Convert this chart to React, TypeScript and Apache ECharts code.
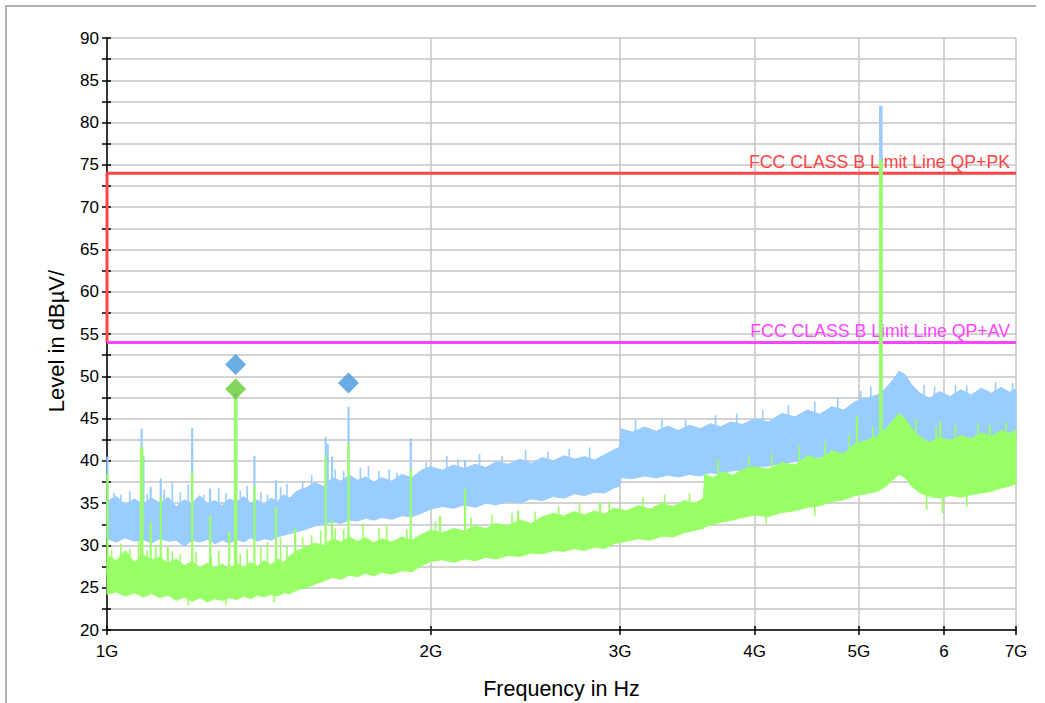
import React, { useEffect, useRef } from "react";
import * as echarts from "echarts";

// Frequency axis (GHz) – drawn on a log10 scale
const FREQ_TICKS = [1, 2, 3, 4, 5, 6, 7];
const FREQ_TICK_LABELS = ["1G", "2G", "3G", "4G", "5G", "6", "7G"];

// Level axis (dBµV)
const LEVEL_MIN = 20;
const LEVEL_MAX = 90;
const LEVEL_STEP = 2.5;

// Limit lines [GHz, dBµV]
const LIMIT_PK = [[1, 54], [1, 74], [7, 74]];
const LIMIT_AV = [[1, 54], [7, 54]];
const LIMIT_LABELS = ["FCC CLASS B Limit Line QP+PK", "FCC CLASS B Limit Line QP+AV"];

// Peak detector trace: noise floor envelope [GHz, low, high]
const PK_BAND = [
  [1.0, 30.8, 35.2], [1.02, 30.4, 35.8], [1.04, 30.9, 34.8], [1.06, 30.5, 35.5], [1.08, 30.7, 34.9],
  [1.1, 30.3, 35.6], [1.12, 30.8, 35.0], [1.14, 30.5, 35.7], [1.16, 30.6, 34.6], [1.18, 29.9, 35.4],
  [1.2, 30.6, 35.0], [1.22, 30.4, 35.9], [1.24, 30.7, 34.9], [1.26, 30.2, 35.3], [1.28, 30.6, 34.7],
  [1.3, 30.3, 35.5], [1.32, 30.7, 35.1], [1.34, 30.4, 35.8], [1.36, 30.9, 35.0], [1.38, 30.5, 35.4],
  [1.4, 30.8, 34.8], [1.42, 30.6, 35.6], [1.44, 31.0, 35.2], [1.46, 31.2, 36.0], [1.48, 31.4, 35.6],
  [1.5, 31.6, 36.4], [1.53, 31.9, 36.8], [1.56, 32.3, 37.4], [1.59, 32.5, 37.0], [1.62, 32.8, 38.0],
  [1.65, 32.6, 37.6], [1.68, 33.0, 38.3], [1.71, 32.9, 37.7], [1.74, 33.2, 38.1], [1.77, 33.0, 37.5],
  [1.8, 33.3, 38.0], [1.84, 33.1, 37.6], [1.88, 33.5, 38.4], [1.92, 33.4, 38.0], [1.96, 33.8, 38.9],
  [2.0, 34.3, 39.3], [2.05, 34.6, 38.9], [2.1, 34.4, 39.5], [2.15, 34.8, 39.1], [2.2, 34.5, 39.6],
  [2.25, 35.0, 39.2], [2.3, 34.8, 39.9], [2.36, 35.2, 39.6], [2.42, 35.0, 40.2], [2.48, 35.5, 39.7],
  [2.54, 35.3, 40.4], [2.6, 35.8, 40.0], [2.66, 35.6, 40.6], [2.72, 36.1, 40.2], [2.78, 35.9, 40.5],
  [2.84, 36.3, 40.1], [2.9, 36.2, 40.7], [2.96, 36.8, 41.3], [2.995, 37.0, 41.6], [3.005, 38.0, 43.8],
  [3.08, 37.9, 43.4], [3.16, 38.2, 44.0], [3.24, 38.0, 43.5], [3.32, 38.3, 44.1], [3.4, 38.1, 43.6],
  [3.48, 38.4, 44.2], [3.56, 38.2, 43.8], [3.64, 38.6, 44.4], [3.72, 38.4, 44.0], [3.8, 38.8, 44.6],
  [3.9, 38.9, 44.3], [4.0, 39.2, 45.0], [4.12, 39.4, 44.6], [4.24, 39.7, 45.6], [4.36, 39.9, 45.2],
  [4.48, 40.2, 46.0], [4.6, 40.4, 45.5], [4.72, 40.7, 46.4], [4.84, 40.9, 46.0], [4.96, 41.2, 47.0],
  [5.08, 41.4, 47.4], [5.2, 41.6, 47.8], [5.3, 42.0, 48.6], [5.38, 42.6, 49.6], [5.45, 43.0, 50.6],
  [5.52, 42.6, 50.2], [5.6, 42.0, 49.0], [5.7, 41.5, 48.0], [5.82, 41.2, 47.4], [5.94, 41.0, 48.2],
  [6.08, 41.2, 47.6], [6.22, 41.4, 48.4], [6.36, 41.5, 47.8], [6.5, 41.8, 48.6], [6.64, 41.9, 48.0],
  [6.78, 42.1, 48.7], [6.9, 42.2, 48.1], [7.0, 42.4, 48.5],
];

// Average detector trace: noise floor envelope [GHz, low, high]
const AV_BAND = [
  [1.0, 24.2, 28.8], [1.02, 24.5, 28.2], [1.04, 24.0, 29.4], [1.06, 24.4, 28.0], [1.08, 23.9, 28.9],
  [1.1, 24.3, 28.3], [1.12, 23.8, 28.6], [1.14, 24.1, 27.9], [1.16, 23.5, 28.4], [1.18, 23.9, 27.6],
  [1.2, 23.4, 28.1], [1.22, 23.8, 27.4], [1.24, 23.3, 27.9], [1.26, 23.7, 27.3], [1.28, 23.5, 27.8],
  [1.3, 23.8, 27.2], [1.32, 23.6, 27.9], [1.34, 24.0, 27.4], [1.36, 23.7, 28.0], [1.38, 24.1, 27.5],
  [1.4, 23.9, 28.2], [1.42, 24.2, 27.7], [1.44, 24.0, 28.4], [1.46, 24.4, 28.0], [1.48, 24.3, 28.8],
  [1.5, 24.7, 29.3], [1.53, 25.0, 29.8], [1.56, 25.4, 30.3], [1.59, 25.8, 30.0], [1.62, 26.2, 30.8],
  [1.65, 26.0, 30.4], [1.68, 26.5, 31.0], [1.71, 26.3, 30.5], [1.74, 26.7, 30.9], [1.77, 26.4, 30.3],
  [1.8, 26.8, 30.8], [1.84, 26.6, 30.4], [1.88, 27.0, 31.0], [1.92, 26.9, 30.6], [1.96, 27.6, 31.3],
  [2.0, 28.1, 31.8], [2.05, 28.3, 31.5], [2.1, 28.0, 32.0], [2.15, 28.4, 31.7], [2.2, 28.2, 32.3],
  [2.25, 28.6, 32.0], [2.3, 28.4, 32.6], [2.36, 28.8, 32.3], [2.42, 28.7, 33.0], [2.48, 29.1, 32.6],
  [2.54, 29.0, 33.4], [2.6, 29.4, 33.8], [2.66, 29.3, 33.5], [2.72, 29.6, 34.0], [2.78, 29.4, 33.6],
  [2.84, 29.8, 34.1], [2.9, 29.6, 33.7], [2.96, 30.2, 34.4], [3.04, 30.5, 34.1], [3.12, 30.8, 34.7],
  [3.2, 30.6, 34.3], [3.28, 31.1, 35.0], [3.36, 31.0, 34.6], [3.44, 31.5, 35.3], [3.52, 31.8, 35.0],
  [3.585, 32.0, 35.6], [3.595, 32.2, 38.4], [3.66, 32.5, 38.0], [3.74, 32.8, 38.7], [3.82, 33.0, 38.3],
  [3.9, 33.3, 39.0], [4.0, 33.6, 39.3], [4.12, 33.4, 39.0], [4.24, 33.9, 39.8], [4.36, 34.1, 39.5],
  [4.48, 34.5, 40.6], [4.6, 34.7, 40.2], [4.72, 35.2, 41.2], [4.84, 35.4, 40.8], [4.96, 35.9, 42.0],
  [5.08, 36.1, 42.4], [5.2, 36.4, 42.9], [5.3, 37.0, 43.8], [5.38, 37.8, 44.8], [5.45, 38.4, 45.6],
  [5.52, 38.0, 45.0], [5.6, 37.0, 43.8], [5.7, 36.2, 42.8], [5.82, 35.8, 42.2], [5.94, 35.6, 42.8],
  [6.08, 35.9, 42.4], [6.22, 35.7, 43.0], [6.36, 36.0, 42.6], [6.5, 36.2, 43.3], [6.64, 36.4, 42.9],
  [6.78, 36.8, 43.6], [6.9, 37.0, 43.2], [7.0, 37.3, 43.7],
];

// Discrete emissions [GHz, level]
const PK_SPIKES = [
  [1.001, 40.5], [1.077, 43.8], [1.081, 40.6], [1.098, 36.9], [1.122, 37.9], [1.2, 43.9],
  [1.247, 36.7], [1.317, 48.0], [1.371, 40.6], [1.436, 37.7], [1.597, 42.8], [1.604, 42.0],
  [1.619, 40.5], [1.677, 46.4], [1.916, 42.7], [2.152, 40.1], [5.241, 82.0],
];
const AV_SPIKES = [
  [1.001, 38.5], [1.077, 41.6], [1.098, 32.8], [1.122, 35.7], [1.139, 29.8], [1.2, 38.7],
  [1.247, 33.5], [1.299, 31.6], [1.317, 47.4], [1.371, 37.1], [1.436, 34.5], [1.496, 32.0],
  [1.597, 40.5], [1.619, 33.0], [1.677, 42.0], [1.916, 39.1], [2.04, 33.5], [2.152, 36.7],
  [2.411, 34.1], [2.873, 35.1], [4.98, 45.2], [5.241, 75.6], [5.95, 44.6], [6.62, 44.2],
];

// Short noise excursions beyond the envelopes [GHz, level]
const PK_NOISE = [
  [1.015, 36.2], [1.03, 36.0], [1.05, 36.4], [1.09, 36.1], [1.13, 36.6], [1.15, 37.4], [1.17, 36.3],
  [1.19, 37.2], [1.23, 36.0], [1.27, 36.8], [1.29, 36.2], [1.33, 36.5], [1.35, 37.0], [1.39, 36.3],
  [1.41, 36.0], [1.45, 36.9], [1.47, 37.3], [1.52, 37.6], [1.55, 38.3], [1.63, 39.0], [1.66, 38.8],
  [1.72, 39.2], [1.75, 39.4], [1.79, 38.8], [1.83, 39.0], [1.86, 38.6], [1.98, 39.8], [2.07, 40.6],
  [2.12, 40.2], [2.22, 40.8], [2.33, 40.6], [2.45, 41.3], [2.57, 41.1], [2.69, 41.4], [2.81, 41.6],
  [3.1, 44.8], [3.28, 45.0], [3.45, 44.9], [3.68, 45.4], [3.85, 45.6], [4.07, 46.0], [4.3, 46.6],
  [4.55, 47.0], [4.78, 47.4], [5.02, 48.3], [5.13, 48.8], [5.25, 49.0], [5.75, 49.0], [5.88, 48.8],
  [6.15, 49.0], [6.3, 48.9], [6.7, 49.3], [6.95, 49.2],
];
const AV_NOISE = [
  [1.01, 29.5], [1.03, 30.2], [1.05, 29.6], [1.07, 30.6], [1.09, 29.4], [1.11, 30.0], [1.15, 29.3],
  [1.17, 29.0], [1.21, 29.2], [1.25, 28.8], [1.27, 29.4], [1.33, 29.0], [1.35, 29.6], [1.39, 29.8],
  [1.41, 30.4], [1.45, 30.9], [1.47, 30.0], [1.52, 31.0], [1.55, 31.2], [1.58, 31.8], [1.63, 32.0],
  [1.66, 31.9], [1.73, 32.5], [1.79, 32.0], [1.82, 32.4], [1.9, 31.9], [2.02, 32.8], [2.18, 33.3],
  [2.28, 33.6], [2.38, 33.8], [2.5, 34.0], [2.63, 34.6], [2.75, 35.0], [2.93, 35.2], [3.15, 35.7],
  [3.3, 36.0], [3.48, 36.2], [3.7, 40.2], [3.95, 40.5], [4.15, 40.8], [4.4, 41.8], [4.65, 42.3],
  [4.9, 43.2], [5.15, 44.0], [5.65, 45.0], [5.9, 44.0], [6.15, 44.2], [6.45, 44.5], [6.85, 44.6],
  [1.19, 22.9], [1.29, 23.0], [1.43, 23.3], [4.1, 32.6], [4.55, 33.5], [5.78, 34.2], [5.98, 33.8],
  [6.3, 34.6],
];

// Final measurement markers [GHz, dBµV]
const PK_MARKERS = [[1.317, 51.4], [1.677, 49.2]];
const AV_MARKERS = [[1.317, 48.5]];

const FONT = 'Arial, "Liberation Sans", sans-serif';
const PK_COLOR = "#99ccff";
const AV_COLOR = "#99ff66";
const PK_MARK = "#4499dd";
const AV_MARK = "#66cc33";
const LIMIT_PK_COLOR = "#ff4444";
const LIMIT_AV_COLOR = "#ff44ff";
const GRID_COLOR = "#c4c4c4";

const lg = (f: number) => Math.log10(f);
const tickVals = FREQ_TICKS.map(lg);

function freqLabel(v: number): string {
  const i = tickVals.findIndex((t) => Math.abs(t - v) < 1e-6);
  return i >= 0 ? FREQ_TICK_LABELS[i] : "";
}

// Anchor of a vertical mark: middle of the envelope at the nearest listed frequency
function bandAnchor(band: number[][], f: number): number {
  let best = band[0];
  for (const p of band) if (Math.abs(p[0] - f) < Math.abs(best[0] - f)) best = p;
  return (best[1] + best[2]) / 2;
}

function bandSeries(band: number[][], color: string, z: number) {
  return {
    type: "custom",
    coordinateSystem: "cartesian2d",
    silent: true,
    z,
    data: band.map(([f, lo, hi]) => [lg(f), lo, hi]),
    encode: { x: 0, y: [1, 2] },
    renderItem: (params: any, api: any) => {
      if (params.dataIndex !== 0) return null;
      const upper = band.map(([f, , hi]) => api.coord([lg(f), hi]));
      const lower = band.map(([f, lo]) => api.coord([lg(f), lo])).reverse();
      return {
        type: "polygon",
        shape: { points: upper.concat(lower) },
        style: { fill: color, stroke: color, lineWidth: 1 },
      };
    },
  };
}

function spikeSeries(spikes: number[][], band: number[][], color: string, z: number, width: number, wideWidth: number) {
  return {
    type: "custom",
    coordinateSystem: "cartesian2d",
    silent: true,
    z,
    data: spikes.map(([f, top]) => [lg(f), bandAnchor(band, f), top]),
    encode: { x: 0, y: [1, 2] },
    renderItem: (params: any, api: any) => {
      const x = api.value(0);
      const lo = api.value(1);
      const hi = api.value(2);
      const p0 = api.coord([x, lo]);
      const p1 = api.coord([x, hi]);
      return {
        type: "line",
        shape: { x1: p0[0], y1: p0[1], x2: p1[0], y2: p1[1] },
        style: { stroke: color, lineWidth: hi - lo > 15 ? wideWidth : width },
      };
    },
  };
}

function limitSeries(points: number[][], color: string, text: string) {
  return {
    type: "line",
    silent: true,
    z: 3,
    symbol: "circle",
    symbolSize: 0.1,
    showSymbol: true,
    lineStyle: { color, width: 3 },
    itemStyle: { color },
    data: points.map(([f, v], i) =>
      i === points.length - 1
        ? {
            value: [lg(f), v],
            label: {
              show: true,
              formatter: text,
              position: "top",
              align: "right",
              distance: 2,
              offset: [-6, 0],
              color,
              fontSize: 17.7,
              fontFamily: FONT,
            },
          }
        : [lg(f), v]
    ),
  };
}

export default function App() {
  const ref = useRef<HTMLDivElement>(null);

  useEffect(() => {
    if (!ref.current) return;
    const chart = echarts.init(ref.current, undefined, { renderer: "svg" });
    const axisLine = { lineStyle: { color: "#000", width: 1.5 } };
    const tickStyle = { color: "#000", width: 1.5 };

    chart.setOption({
      animation: false,
      backgroundColor: "#fff",
      grid: { left: 107, right: 29, top: 38, bottom: 73, outerBoundsMode: "none" },
      graphic: [
        {
          type: "polyline",
          shape: { points: [[6, 710], [6, 6], [1036, 6]] },
          style: { stroke: "#b4b4b4", lineWidth: 2, fill: "none" },
          silent: true,
        },
      ],
      xAxis: [
        {
          type: "value",
          min: 0,
          max: lg(7),
          axisLine,
          axisTick: { show: true, customValues: tickVals, length: 5, lineStyle: tickStyle },
          axisLabel: {
            customValues: tickVals,
            formatter: (v: number) => freqLabel(v),
            margin: 13,
            fontSize: 17,
            color: "#000",
            fontFamily: FONT,
          },
          splitLine: { show: true, lineStyle: { color: GRID_COLOR, width: 1.5 } },
          name: "Frequency in Hz",
          nameLocation: "middle",
          nameGap: 48,
          nameTextStyle: { fontSize: 21.5, color: "#000", fontFamily: FONT },
        },
        {
          type: "value",
          min: 0,
          max: lg(7),
          position: "bottom",
          axisLine: { show: false },
          axisTick: { show: true, inside: true, customValues: tickVals, length: 4, lineStyle: tickStyle },
          axisLabel: { show: false },
          splitLine: { show: false },
        },
      ],
      yAxis: [
        {
          type: "value",
          min: LEVEL_MIN,
          max: LEVEL_MAX,
          interval: LEVEL_STEP,
          axisLine: { show: true, ...axisLine },
          axisTick: { show: true, length: 5, lineStyle: tickStyle },
          axisLabel: {
            formatter: (v: number) => (v % 5 === 0 ? String(v) : ""),
            margin: 8,
            fontSize: 17,
            color: "#000",
            fontFamily: FONT,
          },
          splitLine: { show: true, lineStyle: { color: GRID_COLOR, width: 1.5 } },
          name: "Level in dBµV/",
          nameLocation: "middle",
          nameGap: 40,
          nameTextStyle: { fontSize: 22, color: "#000", fontFamily: FONT, padding: [0, 14, 0, 0] },
        },
        {
          type: "value",
          min: LEVEL_MIN,
          max: LEVEL_MAX,
          interval: LEVEL_STEP,
          position: "left",
          axisLine: { show: false },
          axisTick: { show: true, inside: true, length: 4, lineStyle: tickStyle },
          axisLabel: { show: false },
          splitLine: { show: false },
        },
      ],
      series: [
        limitSeries(LIMIT_PK, LIMIT_PK_COLOR, LIMIT_LABELS[0]),
        limitSeries(LIMIT_AV, LIMIT_AV_COLOR, LIMIT_LABELS[1]),
        bandSeries(PK_BAND, PK_COLOR, 4),
        spikeSeries(PK_NOISE, PK_BAND, PK_COLOR, 5, 1.6, 1.6),
        spikeSeries(PK_SPIKES, PK_BAND, PK_COLOR, 5, 2.2, 3.5),
        bandSeries(AV_BAND, AV_COLOR, 6),
        spikeSeries(AV_NOISE, AV_BAND, AV_COLOR, 7, 1.6, 1.6),
        spikeSeries(AV_SPIKES, AV_BAND, AV_COLOR, 7, 2.2, 3.5),
        {
          type: "scatter",
          z: 9,
          symbol: "diamond",
          symbolSize: 21,
          itemStyle: { color: PK_MARK },
          data: PK_MARKERS.map(([f, v]) => [lg(f), v]),
        },
        {
          type: "scatter",
          z: 9,
          symbol: "diamond",
          symbolSize: 21,
          itemStyle: { color: AV_MARK },
          data: AV_MARKERS.map(([f, v]) => [lg(f), v]),
        },
      ],
    });

    return () => chart.dispose();
  }, []);

  return (
    <div
      ref={ref}
      style={{ position: "absolute", left: 0, top: 0, width: 1045, height: 703 }}
    />
  );
}
